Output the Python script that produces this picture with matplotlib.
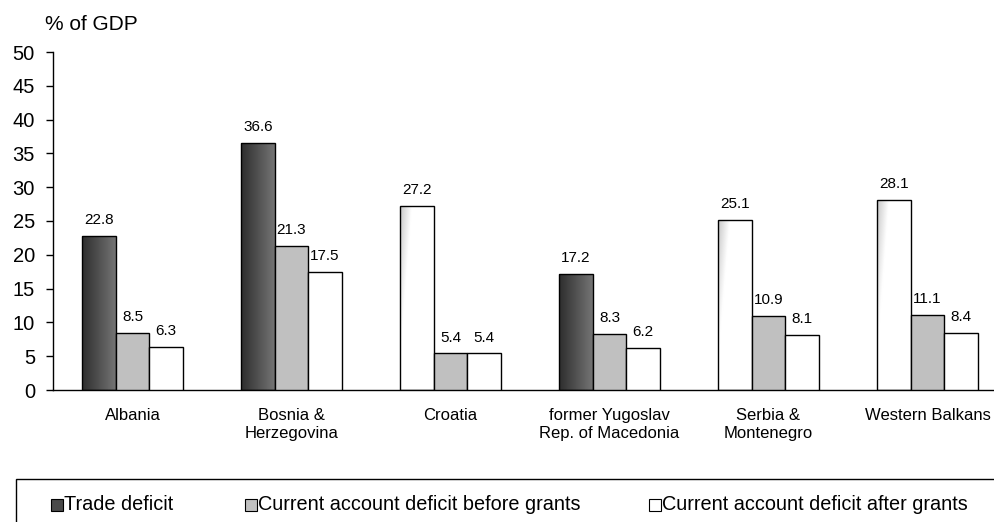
import numpy as np
import matplotlib
matplotlib.use("Agg")
import matplotlib.pyplot as plt
from matplotlib.patches import Rectangle
from matplotlib.colors import LinearSegmentedColormap

plt.rcParams['font.family'] = ['Liberation Sans', 'DejaVu Sans']

# data
countries = ['Albania', 'Bosnia &\nHerzegovina', 'Croatia',
             'former Yugoslav\nRep. of Macedonia', 'Serbia &\nMontenegro',
             'Western Balkans']
trade_deficit = [22.8, 36.6, 27.2, 17.2, 25.1, 28.1]
ca_before = [8.5, 21.3, 5.4, 8.3, 10.9, 11.1]
ca_after = [6.3, 17.5, 5.4, 6.2, 8.1, 8.4]
# trade deficit bars drawn dark (True) or light (False) in the original
dark_fill = [True, True, False, True, False, False]
series_names = ['Trade deficit', 'Current account deficit before grants',
                'Current account deficit after grants']
series_colors = ['#4a4a4a', '#c0c0c0', 'white']

fig = plt.figure(figsize=(9.94, 5.22), dpi=100)
W, H = 994, 522
ax = fig.add_axes([53 / W, (H - 390) / H, (1007 - 53) / W, (390 - 52) / H])

x = np.arange(len(countries))
w = 0.21

dark_cmap = LinearSegmentedColormap.from_list('dk', ['#2e2e2e', '#747474'])
light_cmap = LinearSegmentedColormap.from_list('lt', ['#c8c8c8', '#ffffff'])

# trade deficit bars with gradient fill
bars_t = ax.bar(x - w, trade_deficit, w, color='none', edgecolor='black',
                linewidth=1, zorder=3)
for b, dark in zip(bars_t, dark_fill):
    x0, y0 = b.get_x(), b.get_y()
    bw, bh = b.get_width(), b.get_height()
    if dark:
        grad = np.tile(np.linspace(0, 1, 64), (2, 1))
        im = ax.imshow(grad, cmap=dark_cmap, aspect='auto', origin='lower',
                       extent=[x0, x0 + bw, y0, y0 + bh], zorder=2)
    else:
        gx = np.linspace(0, 1, 64)[None, :]
        gy = np.linspace(0, 1, 64)[:, None]
        grad = np.clip(gx / 0.35 + (1 - gy) * 1.2, 0, 1)
        im = ax.imshow(grad, cmap=light_cmap, aspect='auto', origin='lower',
                       extent=[x0, x0 + bw, y0, y0 + bh], zorder=2)
    im.set_clip_path(Rectangle((x0, y0), bw, bh, transform=ax.transData))

bars_b = ax.bar(x, ca_before, w, color=series_colors[1], edgecolor='black',
                linewidth=1, zorder=3)
bars_a = ax.bar(x + w, ca_after, w, color=series_colors[2], edgecolor='black',
                linewidth=1, zorder=3)

# value labels
for bars, vals in [(bars_t, trade_deficit), (bars_b, ca_before), (bars_a, ca_after)]:
    for b, v in zip(bars, vals):
        ax.annotate(f'{v:.1f}', (b.get_x() + b.get_width() / 2, v),
                    xytext=(0, 11.5), textcoords='offset points',
                    ha='center', va='center', fontsize=11)

ax.set_xlim(-0.5, len(countries) - 0.5)
ax.set_ylim(0, 50)
ax.set_yticks(range(0, 51, 5))
ax.tick_params(axis='y', labelsize=14.5, length=5, width=1, direction='out', pad=8)
ax.set_xticks([])
for s in ['top', 'right']:
    ax.spines[s].set_visible(False)
for s in ['left', 'bottom']:
    ax.spines[s].set_linewidth(1)

# category labels
for xi, name in zip(x, countries):
    ax.text(xi, -2.6, name, ha='center', va='top', fontsize=12,
            linespacing=1.3)

fig.text(45 / W, 1 - 25 / H, '% of GDP', fontsize=15, va='center', ha='left')

# legend box (runs off the right and bottom edges)
fig.patches.append(Rectangle((16 / W, -0.1), 1.2, (H - 479) / H + 0.1,
                             transform=fig.transFigure, facecolor='none',
                             edgecolor='black', linewidth=1))
marker_left = [51, 245, 649]
for lx, name, col in zip(marker_left, series_names, series_colors):
    fig.patches.append(Rectangle((lx / W, 1 - 511 / H), 12 / W, 12 / H,
                                 transform=fig.transFigure, facecolor=col,
                                 edgecolor='black', linewidth=0.8))
    fig.text((lx + 13) / W, 1 - 505 / H, name, fontsize=14.3,
             va='center', ha='left')

fig.savefig('out.png', dpi=100)
